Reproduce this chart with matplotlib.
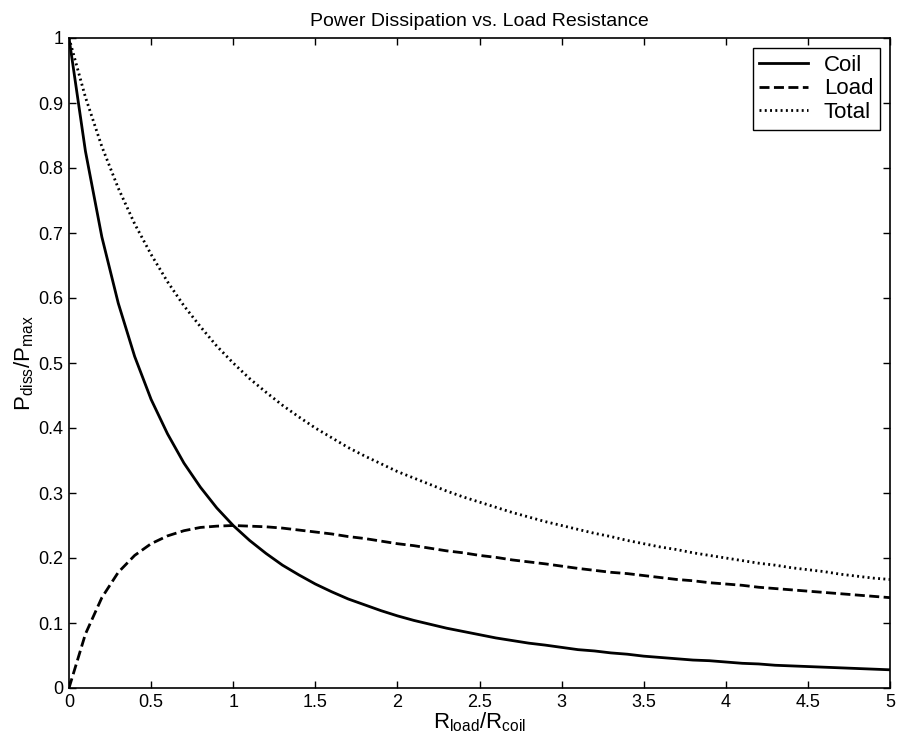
import numpy as np
import matplotlib
matplotlib.use('Agg')
import matplotlib.pyplot as plt
from matplotlib.ticker import FormatStrFormatter

plt.rcParams['font.family'] = ['Liberation Sans', 'DejaVu Sans']
plt.rcParams['mathtext.fontset'] = 'custom'
plt.rcParams['mathtext.rm'] = 'Liberation Sans'
plt.rcParams['mathtext.default'] = 'regular'

# R_load / R_coil, step 0.1
r_ratio = [round(0.1 * i, 1) for i in range(51)]

coil = [1.000, 0.826, 0.694, 0.592, 0.510, 0.444, 0.391, 0.346, 0.309, 0.277,
        0.250, 0.227, 0.207, 0.189, 0.174, 0.160, 0.148, 0.137, 0.128, 0.119,
        0.111, 0.104, 0.098, 0.092, 0.087, 0.082, 0.077, 0.073, 0.069, 0.066,
        0.0625, 0.059, 0.057, 0.054, 0.052, 0.049, 0.047, 0.045, 0.043, 0.042,
        0.040, 0.038, 0.037, 0.035, 0.034, 0.033, 0.032, 0.031, 0.030, 0.029,
        0.028]

load = [0.000, 0.083, 0.139, 0.178, 0.204, 0.222, 0.234, 0.242, 0.247, 0.249,
        0.250, 0.249, 0.248, 0.246, 0.243, 0.240, 0.237, 0.233, 0.230, 0.226,
        0.222, 0.219, 0.215, 0.211, 0.208, 0.204, 0.201, 0.197, 0.194, 0.191,
        0.1875, 0.184, 0.181, 0.178, 0.176, 0.173, 0.170, 0.167, 0.165, 0.162,
        0.160, 0.158, 0.155, 0.153, 0.151, 0.149, 0.147, 0.145, 0.143, 0.141,
        0.139]

total = [1.000, 0.909, 0.833, 0.769, 0.714, 0.667, 0.625, 0.588, 0.556, 0.526,
         0.500, 0.476, 0.455, 0.435, 0.417, 0.400, 0.385, 0.370, 0.357, 0.345,
         0.333, 0.323, 0.313, 0.303, 0.294, 0.286, 0.278, 0.270, 0.263, 0.256,
         0.250, 0.244, 0.238, 0.233, 0.227, 0.222, 0.217, 0.213, 0.208, 0.204,
         0.200, 0.196, 0.192, 0.189, 0.185, 0.182, 0.179, 0.175, 0.172, 0.169,
         0.167]

fig = plt.figure(figsize=(8.97, 7.51), dpi=100)
ax = fig.add_axes([69/897, 63/751, 821/897, 650/751])

ax.plot(r_ratio, coil, color='black', lw=2.0, label='Coil')
ax.plot(r_ratio, load, color='black', lw=2.0, dashes=(3.6, 1.6), label='Load')
ax.plot(r_ratio, total, color='black', lw=2.0, dashes=(0.7, 1.2), label='Total')

ax.set_xlim(0, 5)
ax.set_ylim(0, 1)
ax.set_xticks(np.arange(0, 5.01, 0.5))
ax.set_yticks(np.arange(0, 1.01, 0.1))
ax.xaxis.set_major_formatter(FormatStrFormatter('%g'))
ax.yaxis.set_major_formatter(FormatStrFormatter('%g'))
ax.tick_params(direction='in', top=True, right=True, length=5, width=1,
               labelsize=13, pad=4)
for s in ax.spines.values():
    s.set_linewidth(1.2)

ax.set_title('Power Dissipation vs. Load Resistance', fontsize=14, pad=9)
ax.set_xlabel('$R_{load}/R_{coil}$', fontsize=16, labelpad=0)
ax.set_ylabel('$P_{diss}/P_{max}$', fontsize=16, labelpad=2)

leg = ax.legend(loc='upper right', fontsize=16, fancybox=False, framealpha=1,
                edgecolor='black', borderaxespad=0.45, handlelength=2.2,
                labelspacing=0.12, borderpad=0.3, handletextpad=0.7)
leg.get_frame().set_linewidth(1.0)

fig.savefig('out.png', dpi=100)
